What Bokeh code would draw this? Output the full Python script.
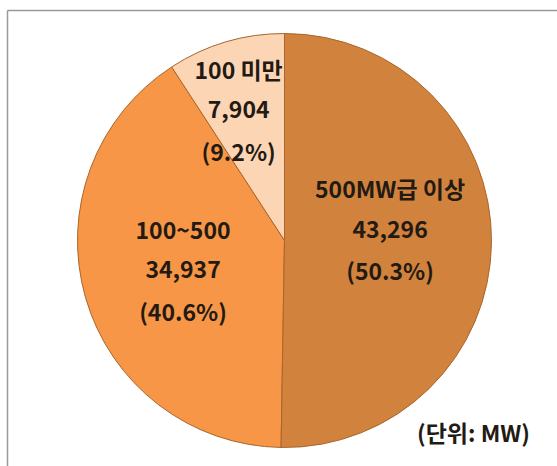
import numpy as np
from bokeh.plotting import figure
from bokeh.models import ColumnDataSource, Range1d
from bokeh.core.properties import value
from bokeh.embed import file_html
from bokeh.resources import INLINE

# ---- data ----
categories = ["500MW급 이상", "100~500", "100 미만"]
capacity_mw = [43296, 34937, 7904]
value_labels = ["43,296", "34,937", "7,904"]
pct_labels = ["(50.3%)", "(40.6%)", "(9.2%)"]
unit_note = "(단위: MW)"

# ---- style ----
colors = ["#D1833D", "#F79646", "#FCD5B5"]
edge_color = "#A9652B"
text_color = "#231a14"
font = "Noto Sans CJK KR"
label_r = [0.51, 0.51, 0.66]
label_dx = [0, 0, -7]
label_dy = [12, 0, 0]
line_gap = 41

W, H = 557, 466
p = figure(width=W, height=H, x_range=Range1d(0, W), y_range=Range1d(0, H),
           output_backend="svg", toolbar_location=None, min_border=0)
p.axis.visible = False
p.grid.visible = False
p.outline_line_color = None
p.background_fill_color = "white"
p.border_fill_color = "white"

# frame lines (top and left visible in reference)
p.segment(x0=[7, 7], y0=[0, H - 10], x1=[7, W], y1=[H - 10, H - 10],
          line_color="#9a9a9a", line_width=1.5)

cx, cy, R = 284, 226, 207
vals = np.array(capacity_mw, float)
frac = vals / vals.sum()
ends = np.cumsum(frac)
starts = ends - frac
start_ang = np.pi / 2 - 2 * np.pi * starts
end_ang = np.pi / 2 - 2 * np.pi * ends
mid = (start_ang + end_ang) / 2


def wedge(i):
    p.wedge(x=[cx], y=[cy], radius=R, start_angle=[start_ang[i]], end_angle=[end_ang[i]],
            direction="clock", fill_color=colors[i], line_color=edge_color, line_width=1)


def labels(i):
    ax = cx + label_r[i] * R * np.cos(mid[i]) + label_dx[i]
    ay = cy + label_r[i] * R * np.sin(mid[i]) + label_dy[i]
    src = ColumnDataSource(dict(x=[ax] * 3, y=[ay] * 3,
                                t=[categories[i], value_labels[i], pct_labels[i]],
                                yo=[-line_gap, 0, line_gap]))
    p.text(x="x", y="y", text="t", y_offset="yo", source=src,
           text_font=value(font), text_font_style="bold", text_font_size="23px",
           text_color=text_color, text_align="center", text_baseline="middle")


wedge(1)
wedge(2)
labels(2)
wedge(0)
labels(0)
labels(1)

p.text(x=[473], y=[H - 431], text=[unit_note], text_font=value(font), text_font_style="bold",
       text_font_size="23px", text_color=text_color, text_align="center", text_baseline="middle")

open("out.html", "w").write(file_html(p, INLINE))
